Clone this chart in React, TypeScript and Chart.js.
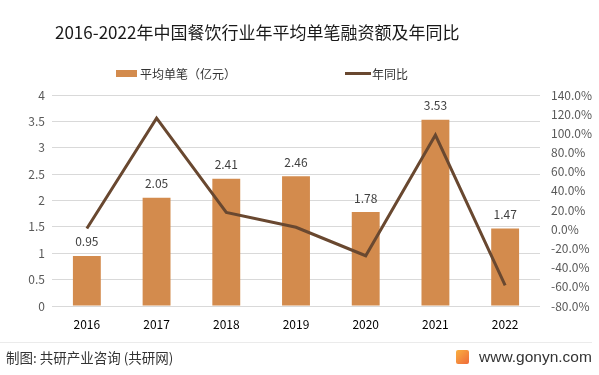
import React, { useEffect, useRef } from "react";
import { Chart, registerables } from "chart.js";

Chart.register(...registerables);

const years = ["2016", "2017", "2018", "2019", "2020", "2021", "2022"];
const avgAmount = [0.95, 2.05, 2.41, 2.46, 1.78, 3.53, 1.47];
const yoyGrowth = [0.8, 115.8, 17.6, 2.1, -27.6, 98.3, -58.4];
const barLabel = "平均单笔（亿元）";
const lineLabel = "年同比";
const titleText = "2016-2022年中国餐饮行业年平均单笔融资额及年同比";
const sourceText = "制图: 共研产业咨询 (共研网)";
const siteText = "www.gonyn.com";

const BAR_COLOR = "#D38B4D";
const LINE_COLOR = "#694830";
const FONT = '"Noto Sans CJK SC", "Noto Sans", sans-serif';

export default function App() {
  const ref = useRef<HTMLCanvasElement | null>(null);

  useEffect(() => {
    const canvas = ref.current;
    if (!canvas) return;
    const valueLabels = {
      id: "valueLabels",
      afterDatasetsDraw(chart: any) {
        const ctx = chart.ctx;
        const meta = chart.getDatasetMeta(1);
        ctx.save();
        ctx.font = `12px ${FONT}`;
        ctx.fillStyle = "#404040";
        ctx.textAlign = "center";
        ctx.textBaseline = "middle";
        meta.data.forEach((el: any, i: number) => {
          ctx.fillText(avgAmount[i].toFixed(2), el.x, el.y - 14);
        });
        ctx.restore();
      },
    };
    const chart = new Chart(canvas, {
      type: "bar",
      data: {
        labels: years,
        datasets: [
          {
            type: "line",
            label: lineLabel,
            data: yoyGrowth,
            yAxisID: "y1",
            borderColor: LINE_COLOR,
            backgroundColor: LINE_COLOR,
            borderWidth: 3,
            pointRadius: 0,
            tension: 0,
            order: 0,
          } as any,
          {
            type: "bar",
            label: barLabel,
            data: avgAmount,
            yAxisID: "y",
            backgroundColor: BAR_COLOR,
            barPercentage: 0.4,
            categoryPercentage: 1,
            order: 1,
          },
        ],
      },
      plugins: [valueLabels],
      options: {
        responsive: false,
        animation: false,
        layout: { padding: { top: 95, bottom: 39, left: 0, right: 0 } },
        plugins: {
          legend: { display: false },
          title: { display: false },
          tooltip: { enabled: false },
        },
        scales: {
          x: {
            grid: { display: false },
            border: { display: false },
            ticks: { color: "#000", font: { size: 12, family: FONT }, padding: 3 },
            afterFit: (s: any) => { s.height = 30; },
          },
          y: {
            position: "left",
            min: 0,
            max: 4,
            ticks: {
              stepSize: 0.5,
              color: "#595959",
              font: { size: 12, family: FONT },
              padding: 7,
              callback: (v: any) => String(Number(v)),
            },
            grid: { color: "#D9D9D9", drawTicks: false },
            border: { display: false },
            afterFit: (s: any) => { s.width = 52; },
          },
          y1: {
            position: "right",
            min: -80,
            max: 140,
            ticks: {
              stepSize: 20,
              color: "#595959",
              font: { size: 12, family: FONT },
              padding: 11,
              callback: (v: any) => Number(v).toFixed(1) + "%",
            },
            grid: { display: false, drawTicks: false },
            border: { display: false },
            afterFit: (s: any) => { s.width = 59; },
          },
        },
      },
    });
    return () => chart.destroy();
  }, []);

  return (
    <div style={{ position: "fixed", left: 0, top: 0, width: 599, height: 375, background: "#fff", overflow: "hidden", fontFamily: FONT }}>
      <canvas ref={ref} width={599} height={375} style={{ position: "absolute", left: 0, top: 0 }} />
      <div style={{ position: "absolute", left: 55, top: 20, fontSize: 17, color: "#1a1a1a", lineHeight: "24px", whiteSpace: "nowrap" }}>
        {titleText}
      </div>
      <div style={{ position: "absolute", left: 116, top: 64, height: 18, display: "flex", alignItems: "center", fontSize: 12, color: "#333" }}>
        <span style={{ display: "inline-block", width: 21, height: 7, background: BAR_COLOR, marginRight: 3 }} />
        <span>{barLabel}</span>
      </div>
      <div style={{ position: "absolute", left: 345, top: 64, height: 18, display: "flex", alignItems: "center", fontSize: 12, color: "#333" }}>
        <span style={{ display: "inline-block", width: 26, height: 3, background: LINE_COLOR, marginRight: 1 }} />
        <span>{lineLabel}</span>
      </div>
      <div style={{ position: "absolute", left: 0, top: 342, width: 592, height: 1, background: "#EBEBEB" }} />
      <div style={{ position: "absolute", left: 6, top: 347, fontSize: 13.5, color: "#333", lineHeight: "20px", whiteSpace: "nowrap" }}>
        {sourceText}
      </div>
      <div style={{ position: "absolute", left: 456, top: 347, height: 20, display: "flex", alignItems: "center", whiteSpace: "nowrap" }}>
        <span style={{ display: "inline-block", width: 13, height: 14, borderRadius: 2, background: "linear-gradient(135deg,#F9B040,#EF6A3A)", marginRight: 10 }} />
        <span style={{ fontSize: 15.5, color: "#333", fontFamily: '"Liberation Sans", Arial, sans-serif' }}>{siteText}</span>
      </div>
    </div>
  );
}
